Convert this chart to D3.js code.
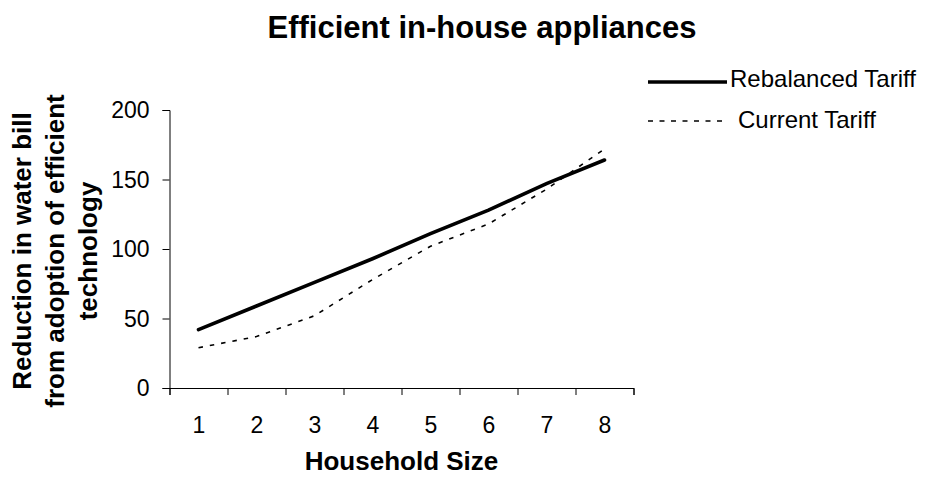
<!DOCTYPE html>
<html>
<head>
<meta charset="utf-8">
<script src="https://cdn.jsdelivr.net/npm/d3@7"></script>
<style>
  html, body { margin: 0; padding: 0; background: #fff; }
  svg { display: block; }
  text { font-family: "Liberation Sans", Arial, sans-serif; fill: #000; }
</style>
</head>
<body>
<svg id="chart" width="939" height="483"></svg>
<script>
// Household size categories and savings per tariff
const householdSizes = [1, 2, 3, 4, 5, 6, 7, 8];
const rebalancedTariff = [42, 59, 76, 93, 111, 128, 147, 164];
const currentTariff = [29, 37, 52, 78, 102, 118, 143, 172];
const yTicks = [0, 50, 100, 150, 200];
const seriesNames = ["Rebalanced Tariff", "Current Tariff"];

const svg = d3.select("#chart");

const plot = { left: 169.5, right: 633.5, top: 110, bottom: 388 };

// Category positions: each size sits in the middle of its slot
const x = d3.scalePoint()
  .domain(householdSizes)
  .range([plot.left + (plot.right - plot.left) / 16, plot.right - (plot.right - plot.left) / 16]);
// Slot boundaries for the tick marks
const xEdges = d3.scaleLinear()
  .domain([0.5, householdSizes.length + 0.5])
  .range([plot.left, plot.right]);
const y = d3.scaleLinear().domain([0, 200]).range([plot.bottom, plot.top]);

// Y axis
const yAxis = svg.append("g")
  .attr("transform", `translate(${plot.left},0)`)
  .call(d3.axisLeft(y).tickValues(yTicks).tickSize(7).tickPadding(13));
yAxis.selectAll("text").style("font-size", "23px").attr("dy", "0.34em");

// X axis: boundary ticks
svg.append("g")
  .attr("transform", `translate(0,${plot.bottom})`)
  .call(d3.axisBottom(xEdges)
    .tickValues(d3.range(0.5, householdSizes.length + 1, 1))
    .tickSize(7)
    .tickFormat(""));
// X axis: category labels
const xLabels = svg.append("g")
  .attr("transform", `translate(0,${plot.bottom})`)
  .call(d3.axisBottom(x).tickSize(0).tickPadding(29));
xLabels.select(".domain").remove();
xLabels.selectAll("text").style("font-size", "23px");

svg.selectAll(".domain, .tick line").attr("stroke", "#000").attr("stroke-width", 1);

// Lines
const line = d3.line()
  .x((d, i) => x(householdSizes[i]))
  .y(d => y(d));

svg.append("path")
  .datum(rebalancedTariff)
  .attr("fill", "none")
  .attr("stroke", "#000")
  .attr("stroke-width", 3.6)
  .attr("stroke-linecap", "round")
  .attr("d", line);

svg.append("path")
  .datum(currentTariff)
  .attr("fill", "none")
  .attr("stroke", "#000")
  .attr("stroke-width", 1.6)
  .attr("stroke-dasharray", "4.5,7")
  .attr("d", line);

// Title
svg.append("text")
  .attr("x", 482)
  .attr("y", 38)
  .attr("text-anchor", "middle")
  .style("font-size", "31px")
  .style("font-weight", "bold")
  .text("Efficient in-house appliances");

// Axis titles
svg.append("text")
  .attr("x", (plot.left + plot.right) / 2)
  .attr("y", 470)
  .attr("text-anchor", "middle")
  .style("font-size", "26px")
  .style("font-weight", "bold")
  .text("Household Size");

const yTitle = svg.append("text")
  .attr("transform", `translate(31,251) rotate(-90)`)
  .attr("text-anchor", "middle")
  .style("font-size", "26px")
  .style("font-weight", "bold");
["Reduction in water bill", "from adoption of efficient", "technology"].forEach((t, i) => {
  yTitle.append("tspan").attr("x", 0).attr("y", i * 33).text(t);
});

// Legend
const legend = svg.append("g");
const legendRows = [
  { name: seriesNames[0], y: 82, width: 3.6, dash: null, textX: 730, baseline: 87 },
  { name: seriesNames[1], y: 121, width: 1.6, dash: "5,6.5", textX: 738, baseline: 128 }
];
legendRows.forEach(r => {
  legend.append("line")
    .attr("x1", 648).attr("x2", 727)
    .attr("y1", r.y).attr("y2", r.y)
    .attr("stroke", "#000")
    .attr("stroke-width", r.width)
    .attr("stroke-dasharray", r.dash);
  legend.append("text")
    .attr("x", r.textX)
    .attr("y", r.baseline)
    .style("font-size", "24px")
    .text(r.name);
});
</script>
</body>
</html>
